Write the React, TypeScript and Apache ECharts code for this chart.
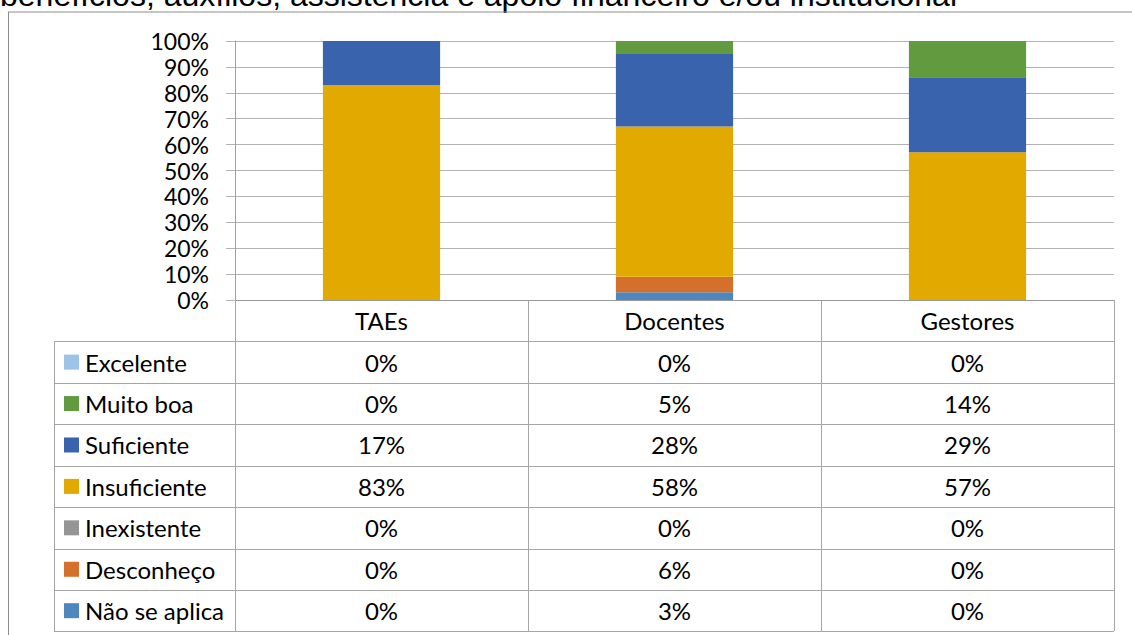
import React, { useEffect, useRef } from "react";
import * as echarts from "echarts";

const titleText = "benefícios, auxílios, assistência e apoio financeiro e/ou institucional";
const categories = ["TAEs", "Docentes", "Gestores"];
const yTicks = [0, 10, 20, 30, 40, 50, 60, 70, 80, 90, 100];

const excelente = [0, 0, 0];
const muitoBoa = [0, 5, 14];
const suficiente = [17, 28, 29];
const insuficiente = [83, 58, 57];
const inexistente = [0, 0, 0];
const desconheco = [0, 6, 0];
const naoSeAplica = [0, 3, 0];

// table order (top to bottom)
const rows = [
  { name: "Excelente", color: "#9DC3E6", values: excelente },
  { name: "Muito boa", color: "#629B3F", values: muitoBoa },
  { name: "Suficiente", color: "#3A63AD", values: suficiente },
  { name: "Insuficiente", color: "#E2AA00", values: insuficiente },
  { name: "Inexistente", color: "#959595", values: inexistente },
  { name: "Desconheço", color: "#D5702C", values: desconheco },
  { name: "Não se aplica", color: "#4E87BD", values: naoSeAplica },
];

const FONT = "Lato, 'Open Sans', sans-serif";

export default function App() {
  const ref = useRef<HTMLDivElement>(null);
  useEffect(() => {
    if (!ref.current) return;
    const chart = echarts.init(ref.current, undefined, { renderer: "svg" });

    const plotLeft = 235;
    const plotRight = 1114;
    const plotTop = 41;
    const axisY = 300;
    const tableTop = 341.4;
    const rowH = 41.43;
    const tableLeft = 54;
    const colW = (plotRight - plotLeft) / categories.length;
    const lineColor = "#a6a6a6";
    const tableFont = 24;

    const graphics: any[] = [];
    // title (cropped at top, as in the reference)
    graphics.push({
      type: "text",
      x: 0,
      y: -5,
      style: {
        text: titleText,
        font: "32px 'Liberation Sans', Arial, sans-serif",
        fill: "#000",
        verticalAlign: "middle",
        align: "left",
      },
    });
    // outer frame lines
    graphics.push({
      type: "line",
      shape: { x1: 8, y1: 12, x2: 1132, y2: 12 },
      style: { stroke: "#8c8c8c", lineWidth: 1 },
    });
    graphics.push({
      type: "line",
      shape: { x1: 8.5, y1: 12, x2: 8.5, y2: 635 },
      style: { stroke: "#8c8c8c", lineWidth: 1 },
    });
    // table horizontal lines
    for (let i = 0; i <= rows.length; i++) {
      const y = Math.round(tableTop + i * rowH) + 0.5;
      graphics.push({
        type: "line",
        shape: { x1: tableLeft, y1: y, x2: plotRight, y2: y },
        style: { stroke: lineColor, lineWidth: 1 },
      });
    }
    // left vertical of table
    graphics.push({
      type: "line",
      shape: {
        x1: tableLeft + 0.5,
        y1: Math.round(tableTop) + 0.5,
        x2: tableLeft + 0.5,
        y2: Math.round(tableTop + rows.length * rowH) + 0.5,
      },
      style: { stroke: lineColor, lineWidth: 1 },
    });
    // rows: legend keys, names, values
    rows.forEach((r, i) => {
      const cy = tableTop + i * rowH + rowH / 2;
      graphics.push({
        type: "rect",
        shape: { x: 64, y: cy - 7.5, width: 15, height: 15 },
        style: { fill: r.color },
      });
      graphics.push({
        type: "text",
        x: 85,
        y: cy,
        style: {
          text: r.name,
          font: `${tableFont}px ${FONT}`,
          fill: "#000",
          verticalAlign: "middle",
          align: "left",
        },
      });
      r.values.forEach((v, j) => {
        graphics.push({
          type: "text",
          x: plotLeft + colW * j + colW / 2,
          y: cy,
          style: {
            text: `${v}%`,
            font: `${tableFont}px ${FONT}`,
            fill: "#000",
            verticalAlign: "middle",
            align: "center",
          },
        });
      });
    });

    const stackOrder = [...rows].reverse();
    const series = stackOrder.map((r) => ({
      name: r.name,
      type: "bar",
      stack: "total",
      barWidth: "40%",
      data: r.values,
      itemStyle: { color: r.color },
    }));

    chart.setOption({
      animation: false,
      backgroundColor: "#fff",
      grid: {
        left: plotLeft,
        right: 1132 - plotRight,
        top: plotTop,
        bottom: 635 - axisY,
        containLabel: false,
      },
      xAxis: {
        type: "category",
        data: categories,
        boundaryGap: true,
        axisLine: { show: true, lineStyle: { color: "#999", width: 1 } },
        axisTick: {
          show: true,
          alignWithLabel: false,
          length: Math.round(tableTop + rows.length * rowH) - axisY,
          lineStyle: { color: lineColor, width: 1 },
        },
        axisLabel: {
          show: true,
          margin: 8,
          fontSize: tableFont,
          fontFamily: FONT,
          color: "#000",
        },
        splitLine: { show: false },
      },
      yAxis: {
        type: "value",
        min: yTicks[0],
        max: yTicks[yTicks.length - 1],
        interval: 10,
        axisLine: { show: true, lineStyle: { color: "#a0a0a0", width: 1 } },
        axisTick: { show: true, length: 9, lineStyle: { color: "#b3b3b3" } },
        axisLabel: {
          formatter: "{value}%",
          fontSize: 23,
          fontFamily: FONT,
          color: "#000",
          margin: 26,
        },
        splitLine: { show: true, lineStyle: { color: "#b3b3b3", width: 1 } },
      },
      series,
      graphic: graphics,
    });
    return () => chart.dispose();
  }, []);
  return (
    <div
      ref={ref}
      style={{ position: "absolute", left: 0, top: 0, width: 1132, height: 635 }}
    />
  );
}
